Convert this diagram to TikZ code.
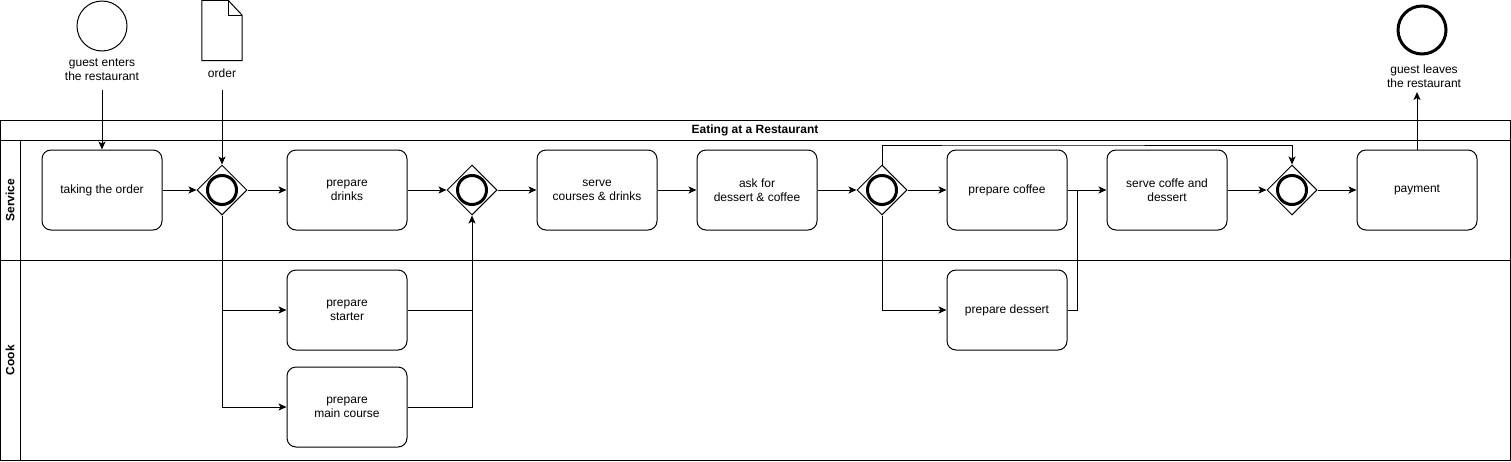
\documentclass[tikz,border=0pt]{standalone}
\usepackage{fontspec}
\setmainfont{Liberation Sans}
\usetikzlibrary{shapes.geometric,arrows.meta}
\begin{document}
\begin{tikzpicture}[x=1pt,y=-1pt,
 every node/.style={font=\fontsize{12}{14}\selectfont},
 task/.style={draw,line width=1pt,rounded corners=9pt,minimum width=120pt,minimum height=80pt,align=center,inner sep=2pt},
 gw/.style={draw,diamond,line width=1pt,minimum width=50pt,minimum height=50pt,inner sep=0pt,aspect=1,
   path picture={\draw[line width=3pt] (path picture bounding box.center) circle (14.5pt);}},
 flow/.style={draw,line width=1pt,-{Stealth[length=8pt,width=7pt,inset=2pt]}},
 plain/.style={draw,line width=1pt},
 lbl/.style={align=center,inner sep=0pt},
 lane/.style={font=\bfseries\fontsize{12}{14}\selectfont,rotate=90,inner sep=0pt}
]
\useasboundingbox (0,0) rectangle (1511,461);
% pool and lanes
\draw[plain] (0.5,120.5) rectangle (1510.5,460.5);
\draw[plain] (0.5,140.5) -- (1510.5,140.5);
\draw[plain] (20.5,140.5) -- (20.5,460.5);
\draw[plain] (0.5,260.5) -- (1510.5,260.5);
\node[font=\bfseries\fontsize{12}{14}\selectfont,inner sep=0pt] (title) at (755,130) {Eating at a Restaurant};
\node[lane] (svc) at (10,200) {Service};
\node[lane] (cook) at (10,360) {Cook};

% events and data
\node[draw,circle,line width=1pt,minimum size=50pt,inner sep=0pt] (start) at (102,26) {};
\node[lbl] (startl) at (102,70) {guest enters\\the restaurant};
\node[minimum width=40pt,minimum height=60pt,inner sep=0pt] (order) at (222,30.5) {};
\draw[plain,line join=miter] (order.north west) -- ([xshift=-14pt]order.north east) -- ([yshift=-15pt]order.north east) -- (order.south east) -- (order.south west) -- cycle;
\draw[plain] ([xshift=-14pt]order.north east) -- ([xshift=-14pt,yshift=-15pt]order.north east) -- ([yshift=-15pt]order.north east);
\node[lbl] (orderl) at (222,73) {order};
\node[draw,circle,line width=3pt,minimum size=48pt,inner sep=0pt] (end) at (1422,30) {};
\node[lbl] (endl) at (1424,76) {guest leaves\\the restaurant};

% tasks
\node[task] (t1) at (102,190) {taking the order};
\node[task] (drinks) at (347,190) {prepare\\drinks};
\node[task] (serve) at (597,190) {serve\\courses \& drinks};
\node[task] (ask) at (757,190) {ask for\\dessert \& coffee};
\node[task] (coffee) at (1007,190) {prepare coffee};
\node[task] (serve2) at (1167,190) {serve coffe and\\dessert};
\node[task] (pay) at (1417,190) {payment};
\node[task] (starter) at (347,310) {prepare\\starter};
\node[task] (main) at (347,407) {prepare\\main course};
\node[task] (dessert) at (1007,310) {prepare dessert};

% gateways
\node[gw] (g1) at (222,190) {};
\node[gw] (g2) at (472,190) {};
\node[gw] (g3) at (882,190) {};
\node[gw] (g4) at (1292,190) {};

% helper points
\coordinate (s0) at (102,90);
\coordinate (o0) at (222,90);
\coordinate (e0) at (1417,92);
\coordinate (j2) at (1077,190);
\coordinate (top) at (1000,145);

% flows
\draw[flow] (s0) -- (t1);
\draw[flow] (o0) -- (g1);
\draw[flow] (t1) -- (g1);
\draw[flow] (g1) -- (drinks);
\draw[flow] (g1.south) |- (starter);
\draw[flow] (g1.south) |- (main);
\draw[flow] (drinks) -- (g2);
\draw[flow] (starter) -| (g2.south);
\draw[plain] (main) -| (starter -| g2);
\draw[flow] (g2) -- (serve);
\draw[flow] (serve) -- (ask);
\draw[flow] (ask) -- (g3);
\draw[flow] (g3) -- (coffee);
\draw[flow] (g3.north) |- (top) -| (g4.north);
\draw[flow] (g3.south) |- (dessert);
\draw[flow] (coffee) -- (serve2);
\draw[plain] (dessert) -| (j2);
\draw[flow] (serve2) -- (g4);
\draw[flow] (g4) -- (pay);
\draw[flow] (pay) -- (e0);
\end{tikzpicture}
\end{document}
